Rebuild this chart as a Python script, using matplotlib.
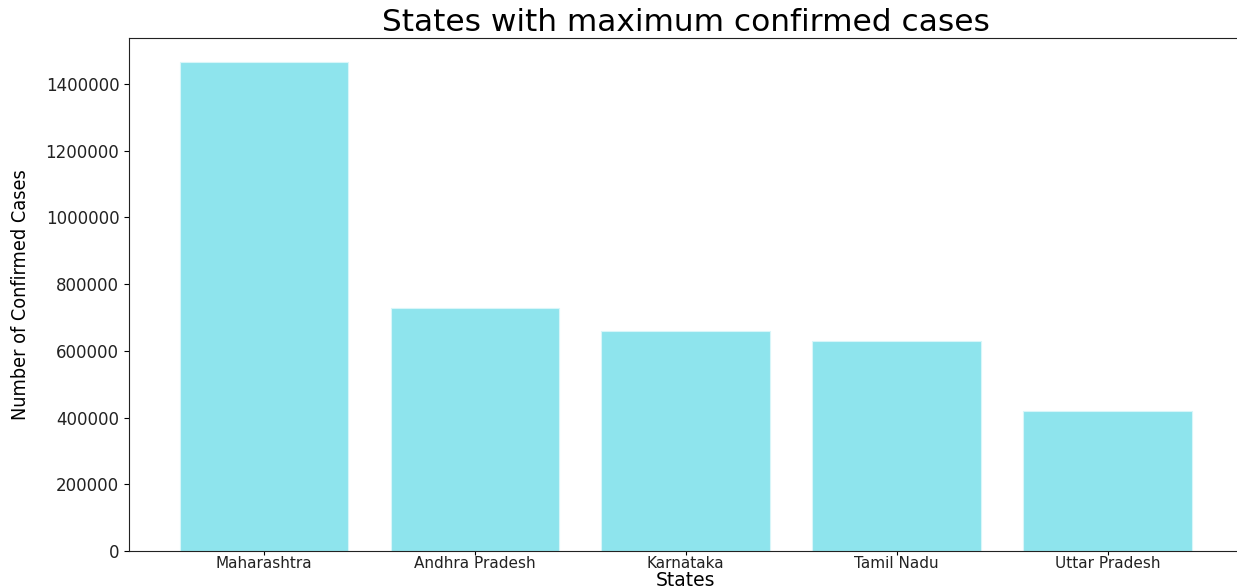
import matplotlib
matplotlib.use("Agg")
import matplotlib.pyplot as plt

states = ["Maharashtra", "Andhra Pradesh", "Karnataka", "Tamil Nadu", "Uttar Pradesh"]
confirmed = [1465911, 728795, 659899, 630408, 419831]
yticks = [0, 200000, 400000, 600000, 800000, 1000000, 1200000, 1400000]

fig = plt.figure(figsize=(12.37, 5.88), dpi=100)
ax = fig.add_axes([129 / 1237, 37 / 588, (1242.5 - 129) / 1237, (551 - 38) / 588])

x = range(len(states))
ax.bar(x, confirmed, width=0.8, color="#8ee4ed", edgecolor="#d8f6f9", linewidth=0.8)

ax.set_xticks(list(x))
ax.set_xticklabels(states, fontsize=11, color="#222222")
ax.set_yticks(yticks)
ax.set_yticklabels([str(v) for v in yticks], fontsize=12, color="#222222")
ax.tick_params(axis="x", pad=0.5, length=3)
ax.set_ylim(0, 1538000)
ax.set_xlim(-0.64, 4.64)

ax.set_title("States with maximum confirmed cases", fontsize=22.5, pad=5)
ax.set_xlabel("States", fontsize=13.5, labelpad=0)
ax.set_ylabel("Number of Confirmed Cases", fontsize=14.2, fontstretch="condensed",
              labelpad=11)

ax.spines["right"].set_visible(False)
for s in ("left", "bottom", "top"):
    ax.spines[s].set_color("#222222")

fig.savefig("out.png", dpi=100)
